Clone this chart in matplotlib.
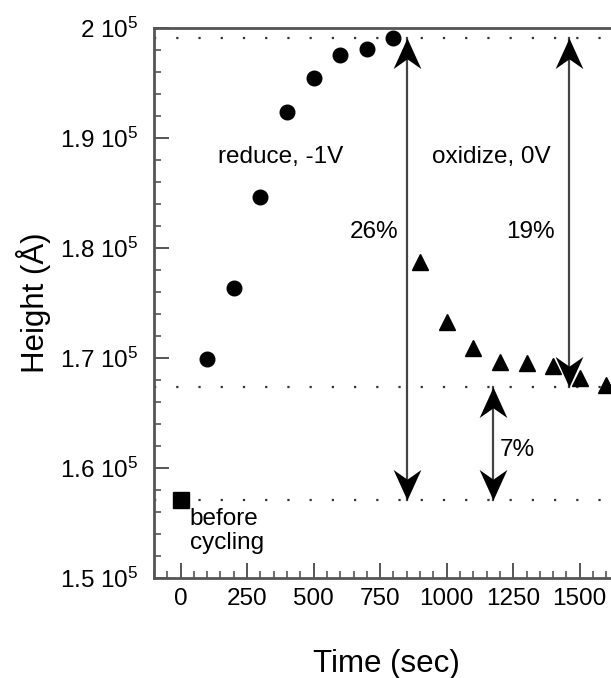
import numpy as np
import matplotlib.pyplot as plt
from matplotlib.path import Path
from matplotlib.ticker import MultipleLocator, FuncFormatter

plt.rcParams['font.family'] = ['Liberation Sans', 'DejaVu Sans']
plt.rcParams['mathtext.fontset'] = 'custom'
plt.rcParams['mathtext.rm'] = 'Liberation Sans'
plt.rcParams['mathtext.default'] = 'regular'

# film height during electrochemical cycling
t_before = [0]
h_before = [1.5709e5]

t_reduce = [100, 200, 300, 400, 500, 600, 700, 800]
h_reduce = [1.699e5, 1.7636e5, 1.8464e5, 1.9236e5, 1.9545e5, 1.9755e5, 1.9809e5, 1.9909e5]

t_oxid = [900, 1000, 1100, 1200, 1300, 1400, 1500, 1600]
h_oxid = [1.7873e5, 1.7327e5, 1.7091e5, 1.6964e5, 1.6955e5, 1.6927e5, 1.6818e5, 1.6755e5]

# reference levels (max, after re-oxidation, initial)
h_levels = [1.9909e5, 1.6736e5, 1.5709e5]

# double arrows: (x, y_top, y_bottom, label)
arrows = [(850, 1.9909e5, 1.5709e5, '26%'),
          (1460, 1.9909e5, 1.6736e5, '19%'),
          (1175, 1.6736e5, 1.5709e5, '7%')]

fig = plt.figure(figsize=(6.11, 6.78), dpi=100)
ax = fig.add_axes([0.252, 0.1475, 0.76, 0.8112])

# stealth style arrow head with tip at the origin, pointing up
head_up = Path([(0, 0), (-0.5, -1.1), (0, -0.75), (0.5, -1.1), (0, 0)],
               [Path.MOVETO, Path.LINETO, Path.LINETO, Path.LINETO, Path.CLOSEPOLY])
head_down = Path([(0, 0), (-0.5, 1.1), (0, 0.75), (0.5, 1.1), (0, 0)],
                 [Path.MOVETO, Path.LINETO, Path.LINETO, Path.LINETO, Path.CLOSEPOLY])

for h in h_levels:
    ax.axhline(h, color='#333333', lw=1.6, linestyle=(0, (1, 9)), zorder=1)

for x, ytop, ybot, lab in arrows:
    ax.plot([x, x], [ytop, ybot], color='#444444', lw=1.6, zorder=2)
    ax.plot(x, ytop, marker=head_up, markersize=44, color='black', mew=0, zorder=3)
    ax.plot(x, ybot, marker=head_down, markersize=44, color='black', mew=0, zorder=3)

ax.plot(t_reduce, h_reduce, 'o', color='black', markersize=10.5, zorder=4)
ax.plot(t_oxid, h_oxid, '^', color='black', markersize=11, zorder=4)
ax.plot(t_before, h_before, 's', color='black', markersize=11, zorder=4)

fs = 17.5
ax.text(140, 1.8827e5, 'reduce, -1V', fontsize=fs, va='center', ha='left')
ax.text(943, 1.8827e5, 'oxidize, 0V', fontsize=fs, va='center', ha='left')
ax.text(820, 1.8145e5, '26%', fontsize=fs, va='center', ha='right')
ax.text(1405, 1.8145e5, '19%', fontsize=fs, va='center', ha='right')
ax.text(1200, 1.6164e5, '7%', fontsize=fs, va='center', ha='left')
ax.text(34, 1.5640e5, 'before\ncycling', fontsize=fs, va='top', ha='left',
        linespacing=1.15)

ax.set_xlim(-100, 1645)
ax.set_ylim(1.5e5, 2.0e5)

ax.xaxis.set_major_locator(MultipleLocator(250))
ax.xaxis.set_minor_locator(MultipleLocator(50))
ax.yaxis.set_major_locator(MultipleLocator(0.1e5))
ax.yaxis.set_minor_locator(MultipleLocator(0.02e5))
ax.yaxis.set_major_formatter(FuncFormatter(lambda v, p: f'{v / 1e5:g} 10$^{{5}}$'))

ax.tick_params(which='both', direction='in', top=False, right=False,
               color='#555555', labelsize=17.5)
ax.tick_params(which='major', length=11, width=1.4)
ax.tick_params(which='minor', length=5, width=1.2)
ax.tick_params(axis='x', pad=7)
ax.tick_params(axis='y', pad=11)

for side in ['left', 'bottom', 'top']:
    ax.spines[side].set_color('#555555')
    ax.spines[side].set_linewidth(2)
ax.spines['right'].set_visible(False)

ax.set_xlabel('Time (sec)', fontsize=22.5, labelpad=28)
ax.set_ylabel('Height (Å)', fontsize=22.5, labelpad=7)

fig.savefig('out.png', dpi=100)
